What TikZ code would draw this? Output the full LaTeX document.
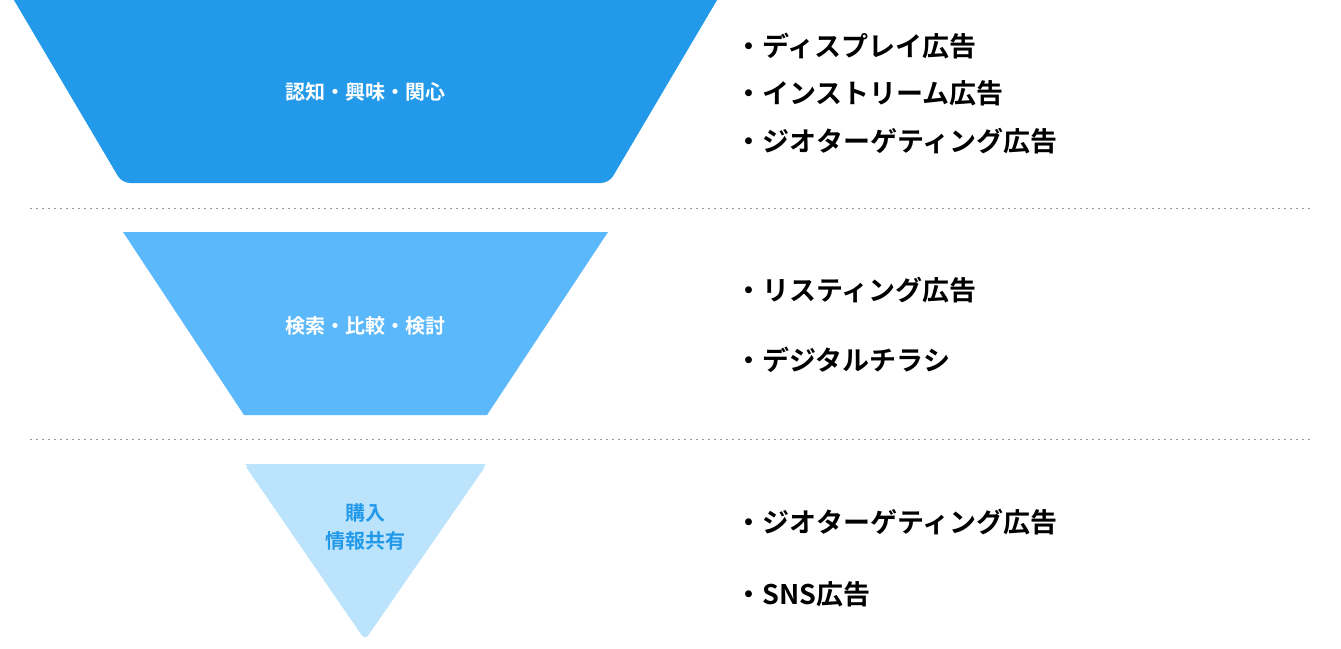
\documentclass[tikz,border=0pt]{standalone}
\usepackage{fontspec}
\newfontfamily\jp{Noto Sans CJK JP Bold}
\definecolor{c1}{HTML}{2299E9}
\definecolor{c2}{HTML}{5BB8FA}
\definecolor{c3}{HTML}{BBE4FC}
\begin{document}
\begin{tikzpicture}[x=1pt,y=-1pt,
  lbl/.style={font=\jp\fontsize{20}{28}\selectfont,align=center},
  item/.style={font=\jp\fontsize{27}{32}\selectfont,anchor=west,inner sep=0},
  sep/.style={draw=gray!80,dash pattern=on 2pt off 4pt,line width=1pt}]
\useasboundingbox (0,0) rectangle (1341,648);
\fill[c1,rounded corners=8pt] (8,-10) -- (723,-10) -- (609,183) -- (122,183) -- cycle;
\fill[c2] (123,232) -- (608,232) -- (487,415) -- (244,415) -- cycle;
\fill[c3,rounded corners=6pt] (244,464) -- (487,464) -- (365,640) -- cycle;
\fill[c3] (244,464) -- (487,464) -- (470,470) -- (260,470) -- cycle;
\coordinate (l1a) at (30,208); \coordinate (l1b) at (1310,208);
\coordinate (l2a) at (30,439); \coordinate (l2b) at (1310,439);
\draw[sep] (l1a) -- (l1b);
\draw[sep] (l2a) -- (l2b);
\node[lbl,text=white] (t1) at (365,92) {認知・興味・関心};
\node[lbl,text=white] (t2) at (365,326) {検索・比較・検討};
\node[lbl,text=c1] (t3) at (365,527) {購入\\情報共有};
\node[item] (a1) at (735,46) {・ディスプレイ広告};
\node[item] (a2) at (735,93) {・インストリーム広告};
\node[item] (a3) at (735,141) {・ジオターゲティング広告};
\node[item] (b1) at (735,290) {・リスティング広告};
\node[item] (b2) at (735,360) {・デジタルチラシ};
\node[item] (c1n) at (735,522) {・ジオターゲティング広告};
\node[item] (c2n) at (735,594) {・SNS広告};
\end{tikzpicture}
\end{document}
